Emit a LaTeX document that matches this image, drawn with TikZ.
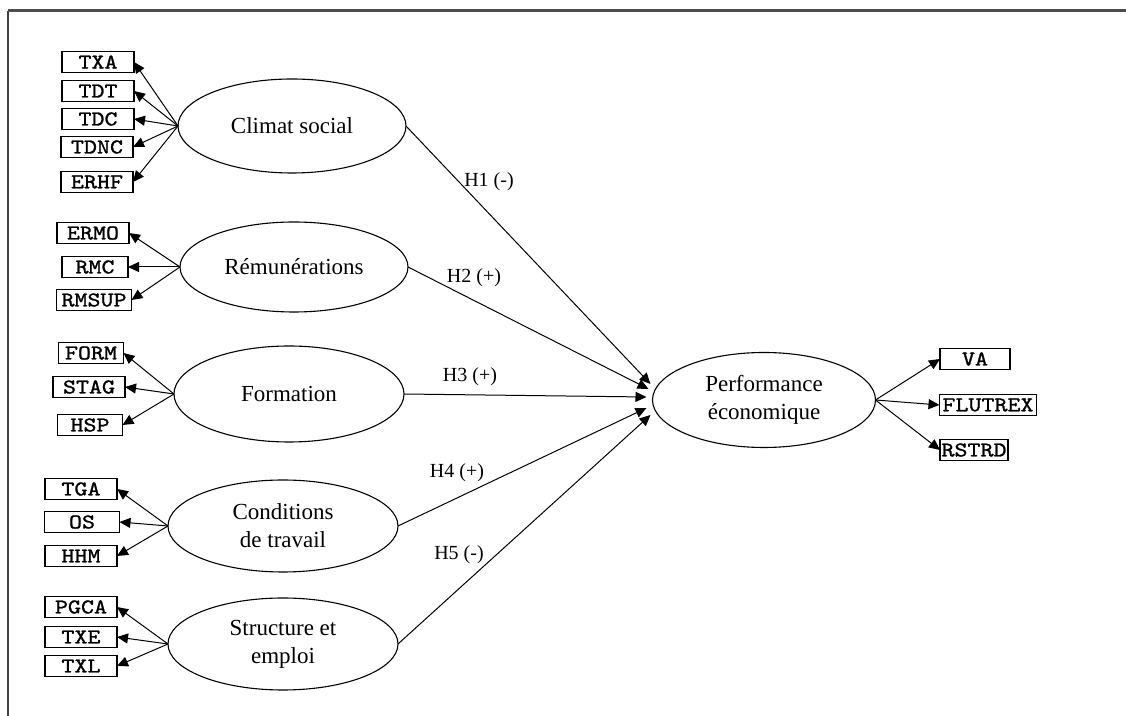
\documentclass[tikz,border=0pt]{standalone}
\usepackage{fontspec}
\setmainfont{Liberation Serif}
\newfontfamily\indfont[FakeStretch=1.18,FakeBold=1.2]{Latin Modern Mono}
\usetikzlibrary{shapes.geometric,arrows.meta}
\tikzset{
  latent/.style={ellipse,draw,line width=0.55pt,inner sep=0pt,outer sep=0pt,align=center,
    font=\fontsize{11.5}{14}\selectfont},
  ind/.style={draw,line width=0.8pt,inner sep=0.5pt,outer sep=0pt,minimum height=10.5pt,
    minimum width=36pt,font=\indfont\fontsize{10.5}{11}\selectfont},
  arr/.style={line width=0.5pt,-{Triangle[length=5.5pt,width=5pt]}},
  hlab/.style={font=\fontsize{10}{12}\selectfont,inner sep=0pt},
  frame/.style={line width=0.9pt,black!75}
}
\begin{document}
\begin{tikzpicture}[x=0.5pt,y=-0.5pt]
\useasboundingbox (0,0) rectangle (1126,716);
\draw[frame] (8,716) -- (8,11);
\draw[line width=1.5pt,black!70] (8,11) -- (1126,11);

% latent variables
\node[latent,minimum width=114pt,minimum height=47pt] (cs) at (292,126) {Climat social};
\node[latent,minimum width=114pt,minimum height=45pt] (rem) at (294,267) {Rémunérations};
\node[latent,minimum width=115pt,minimum height=48pt] (form) at (289,394) {Formation};
\node[latent,minimum width=115pt,minimum height=46pt] (cond) at (283,526) {Conditions\\de travail};
\node[latent,minimum width=115pt,minimum height=46pt] (str) at (283,644) {Structure et\\emploi};
\node[latent,minimum width=111.5pt,minimum height=47.5pt] (perf) at (764,400) {Performance\\économique};

% indicators
\node[ind] (txa) at (98,62) {TXA};
\node[ind] (tdt) at (98,91) {TDT};
\node[ind] (tdc) at (98,119) {TDC};
\node[ind] (tdnc) at (97,147) {TDNC};
\node[ind] (erhf) at (97,182) {ERHF};

\node[ind] (ermo) at (93,233) {ERMO};
\node[ind,minimum width=33pt] (rmc) at (95,267) {RMC};
\node[ind,minimum width=37.5pt] (rmsup) at (94,300) {RMSUP};

\node[ind,minimum width=32.5pt] (formi) at (91,353) {FORM};
\node[ind] (stag) at (89,387) {STAG};
\node[ind,minimum width=32.5pt] (hsp) at (90,425) {HSP};

\node[ind] (tga) at (81,489) {TGA};
\node[ind,minimum width=37.5pt] (os) at (82,522) {OS};
\node[ind] (hhm) at (81,556) {HHM};

\node[ind] (pgca) at (81,607) {PGCA};
\node[ind] (txe) at (81,637) {TXE};
\node[ind] (txl) at (81,666) {TXL};

\node[ind,minimum width=35pt] (va) at (975,359) {VA};
\node[ind,minimum width=48.5pt] (flu) at (988,405) {FLUTREX};
\node[ind,minimum width=34pt] (rstrd) at (974,450) {RSTRD};

% indicator arrows
\foreach \t in {txa,tdt,tdc,tdnc,erhf} \draw[arr] (cs.west) -- (\t.east);
\foreach \t in {ermo,rmc,rmsup} \draw[arr] (rem.west) -- (\t.east);
\foreach \t in {formi,stag,hsp} \draw[arr] (form.west) -- (\t.east);
\foreach \t in {tga,os,hhm} \draw[arr] (cond.west) -- (\t.east);
\foreach \t in {pgca,txe,txl} \draw[arr] (str.west) -- (\t.east);
\foreach \t in {va,flu,rstrd} \draw[arr] (perf.east) -- (\t.west);

% structural paths
\draw[arr] (cs.east) -- ([yshift=8pt,xshift=-1pt]perf.west);
\draw[arr] (rem.east) -- ([yshift=5.5pt,xshift=-2pt]perf.west);
\draw[arr] (form.east) -- ([yshift=1.5pt,xshift=-3pt]perf.west);
\draw[arr] (cond.east) -- ([yshift=-4pt,xshift=-3pt]perf.west);
\draw[arr] (str.east) -- ([yshift=-7.5pt,xshift=-1pt]perf.west);

\node[hlab] (h1) at (489,182) {H1 (-)};
\node[hlab] (h2) at (474,278) {H2 (+)};
\node[hlab] (h3) at (470,377) {H3 (+)};
\node[hlab] (h4) at (457,473) {H4 (+)};
\node[hlab] (h5) at (459,555) {H5 (-)};
\end{tikzpicture}
\end{document}
